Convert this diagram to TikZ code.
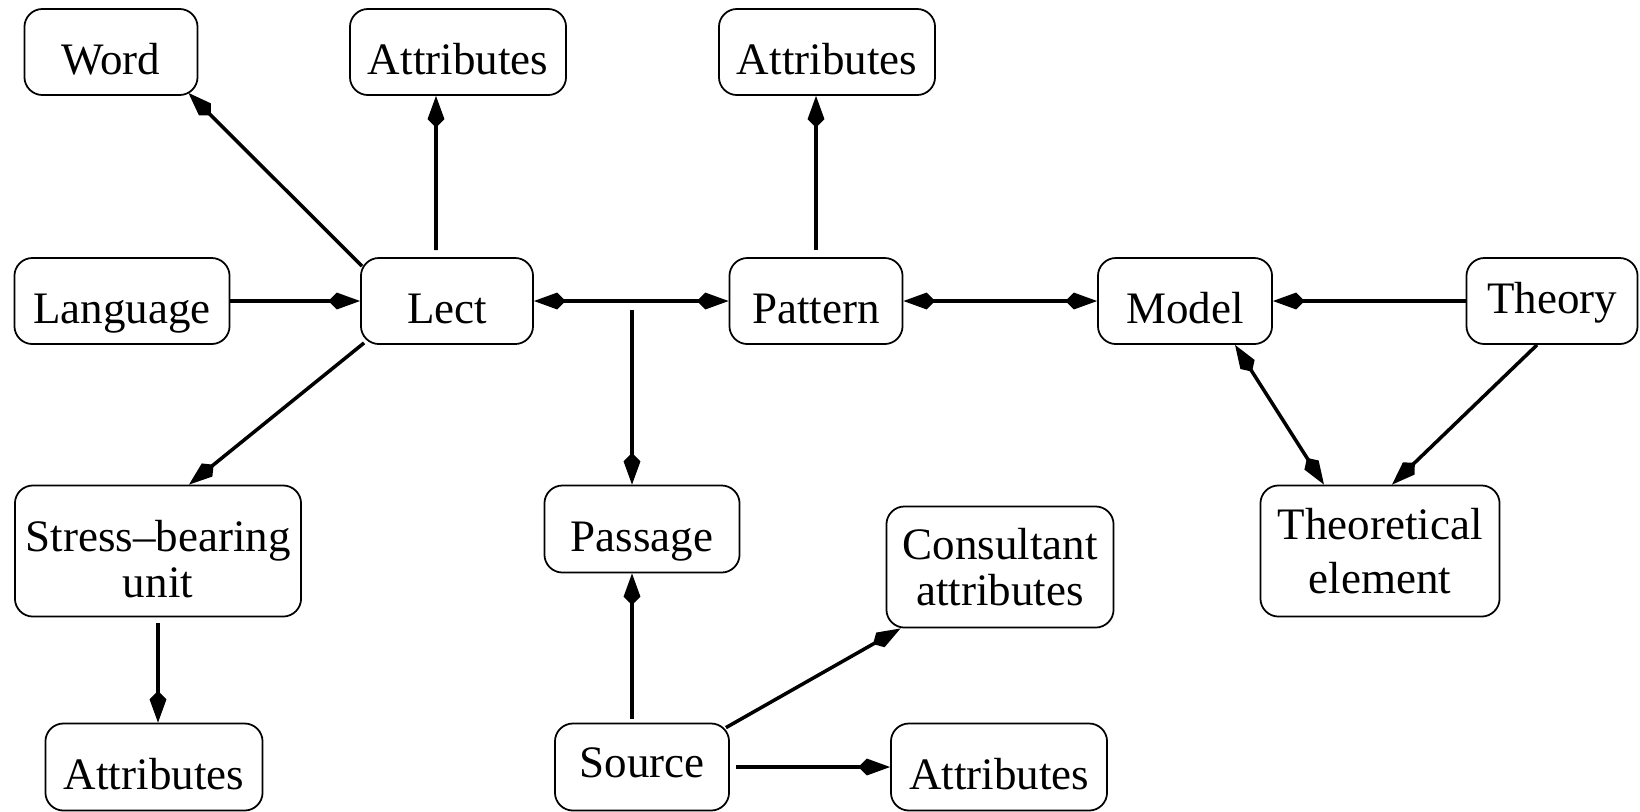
\documentclass[tikz,border=0pt]{standalone}
\usepackage{fontspec}
\setmainfont{Liberation Serif}
\usetikzlibrary{arrows.meta}

\begin{document}
\begin{tikzpicture}[x=0.01cm, y=-0.01cm, ->, >={Kite[length=9pt,width=4.8pt,inset=2.4pt]}, line width=1pt,
	box/.style={draw, line width=0.5pt, rounded corners=0.18cm, inner sep=0pt, minimum height=0.86cm, text height=0.5cm, text depth=0.06cm, font=\fontsize{12.8}{13}\selectfont},
	twoline/.style={draw, line width=0.5pt, rounded corners=0.18cm, inner sep=0pt, align=center, font=\fontsize{12.8}{13}\selectfont}]
		\useasboundingbox (0,0) rectangle (1640,811);
		\node[box, minimum width=1.73cm] (Word) at (111,52) {Word};
		\node[box, minimum width=2.16cm] (AttrLect) at (458,52) {Attributes};
		\node[box, minimum width=2.16cm] (AttrPat) at (827,52) {Attributes};
		\node[box, minimum width=2.15cm] (Language) at (122,301) {Language};
		\node[box, minimum width=1.72cm] (Lect) at (447,301) {Lect};
		\node[box, minimum width=1.73cm] (Pattern) at (816,301) {Pattern};
		\node[box, minimum width=1.74cm] (Model) at (1185,301) {Model};
		\node[box, minimum width=1.71cm, text depth=0.26cm] (Theory) at (1552,301) {Theory};
		\node[twoline, minimum width=2.86cm, minimum height=1.31cm] (SBU) at (158,551) {\rule{0pt}{0.48cm}Stress--bearing\\unit};
		\node[box, minimum width=1.95cm, minimum height=0.87cm] (Passage) at (642,529) {Passage};
		\node[twoline, minimum width=2.39cm, minimum height=1.31cm] (TheoElem) at (1380,551) {Theoretical\\[0.08cm]element};
		\node[twoline, minimum width=2.27cm, minimum height=1.21cm] (Consult) at (1000,567) {Consultant\\attributes};
		\node[box, minimum width=2.17cm, minimum height=0.87cm] (AttrSBU) at (154,767) {Attributes};
		\node[box, minimum width=1.74cm, minimum height=0.87cm, text depth=0.29cm] (Source) at (642,767) {Source};
		\node[box, minimum width=2.16cm, minimum height=0.87cm] (AttrSrc) at (999,767) {Attributes};
		\coordinate (fork) at (632,310);
		\path
		([xshift=0.02cm,yshift=-0.09cm]Lect.north west) edge ([xshift=-0.1cm,yshift=0.03cm]Word.south east)
		([xshift=-0.11cm,yshift=0.07cm]Lect.north) edge ([xshift=-0.22cm]AttrLect.south)
		(Language) edge (Lect)
		([xshift=0.04cm,yshift=0.02cm]Lect.south west) edge ([xshift=0.31cm]SBU.north)
		(Lect) edge[<->] (Pattern)
		(fork) edge (fork |- Passage.north)
		([yshift=0.07cm]Pattern.north) edge (Pattern.north |- AttrPat.south)
		(Pattern) edge[<->] (Model)
		(Theory) edge (Model)
		([xshift=0.5cm]Model.south) edge[<->] ([xshift=-0.56cm]TheoElem.north)
		([xshift=-0.15cm]Theory.south) edge ([xshift=0.12cm]TheoElem.north)
		([yshift=-0.06cm]SBU.south) edge (SBU.south |- AttrSBU.north)
		([xshift=-0.1cm,yshift=0.04cm]Source.north) edge ([xshift=-0.1cm]Passage.south)
		([xshift=-0.04cm,yshift=-0.05cm]Source.north east) edge ([xshift=0.15cm]Consult.south west)
		([xshift=0.06cm]Source.east) edge (AttrSrc.west);
\end{tikzpicture}
\end{document}
